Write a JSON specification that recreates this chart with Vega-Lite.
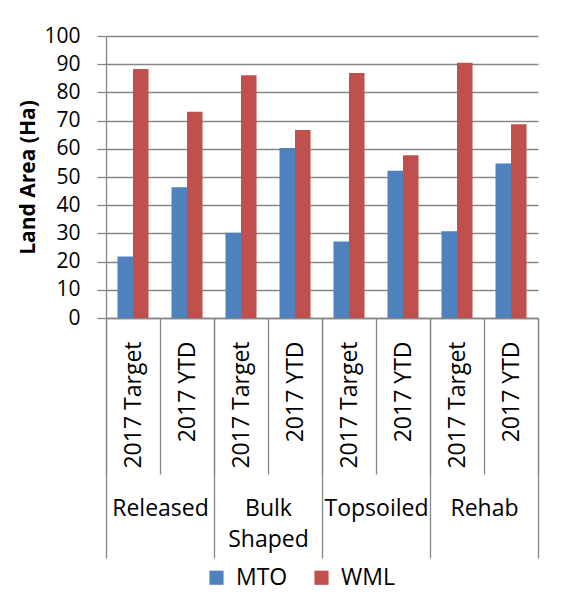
{
  "$schema": "https://vega.github.io/schema/vega-lite/v6.json",
  "width": 432,
  "height": 282,
  "autosize": {"type": "none"},
  "padding": {"left": 106, "top": 36, "right": 24, "bottom": 284},
  "background": "white",
  "config": {
    "font": "Open Sans",
    "view": {"stroke": null},
    "axis": {"labelFont": "Open Sans", "titleFont": "Open Sans", "labelColor": "#000000", "titleColor": "#000000"}
  },
  "data": {
    "values": [
      {"group": "Released", "sub": "2017 Target", "bar": "Released|2017 Target", "series": "MTO", "value": 21.8},
      {"group": "Released", "sub": "2017 Target", "bar": "Released|2017 Target", "series": "WML", "value": 88.3},
      {"group": "Released", "sub": "2017 YTD", "bar": "Released|2017 YTD", "series": "MTO", "value": 46.4},
      {"group": "Released", "sub": "2017 YTD", "bar": "Released|2017 YTD", "series": "WML", "value": 73.1},
      {"group": "Bulk Shaped", "sub": "2017 Target", "bar": "Bulk Shaped|2017 Target", "series": "MTO", "value": 30.2},
      {"group": "Bulk Shaped", "sub": "2017 Target", "bar": "Bulk Shaped|2017 Target", "series": "WML", "value": 86.1},
      {"group": "Bulk Shaped", "sub": "2017 YTD", "bar": "Bulk Shaped|2017 YTD", "series": "MTO", "value": 60.3},
      {"group": "Bulk Shaped", "sub": "2017 YTD", "bar": "Bulk Shaped|2017 YTD", "series": "WML", "value": 66.7},
      {"group": "Topsoiled", "sub": "2017 Target", "bar": "Topsoiled|2017 Target", "series": "MTO", "value": 27.1},
      {"group": "Topsoiled", "sub": "2017 Target", "bar": "Topsoiled|2017 Target", "series": "WML", "value": 86.9},
      {"group": "Topsoiled", "sub": "2017 YTD", "bar": "Topsoiled|2017 YTD", "series": "MTO", "value": 52.2},
      {"group": "Topsoiled", "sub": "2017 YTD", "bar": "Topsoiled|2017 YTD", "series": "WML", "value": 57.7},
      {"group": "Rehab", "sub": "2017 Target", "bar": "Rehab|2017 Target", "series": "MTO", "value": 30.8},
      {"group": "Rehab", "sub": "2017 Target", "bar": "Rehab|2017 Target", "series": "WML", "value": 90.5},
      {"group": "Rehab", "sub": "2017 YTD", "bar": "Rehab|2017 YTD", "series": "MTO", "value": 54.8},
      {"group": "Rehab", "sub": "2017 YTD", "bar": "Rehab|2017 YTD", "series": "WML", "value": 68.7}
    ]
  },
  "layer": [
    {
      "mark": {"type": "bar"},
      "encoding": {
        "x": {
          "field": "bar",
          "type": "nominal",
          "sort": null,
          "scale": {"type": "band", "paddingInner": 0, "paddingOuter": 0},
          "axis": {
            "orient": "bottom",
            "title": null,
            "domain": true,
            "domainColor": "#868686",
            "domainWidth": 1.3,
            "ticks": true,
            "tickBand": "extent",
            "tickSize": 156,
            "tickColor": "#868686",
            "tickWidth": 1.3,
            "labelExpr": "split(datum.value, '|')[1]",
            "labelAngle": -90,
            "labelAlign": "right",
            "labelBaseline": "middle",
            "labelPadding": -133,
            "labelFontSize": 23,
            "labelOverlap": false,
            "labelColor": "#000000"
          }
        },
        "xOffset": {
          "field": "series",
          "type": "nominal",
          "scale": {"paddingInner": 0, "paddingOuter": 0.74}
        },
        "y": {
          "field": "value",
          "type": "quantitative",
          "scale": {"domain": [0, 100], "nice": false, "zero": true},
          "axis": {
            "title": "Land Area (Ha)",
            "titleFontSize": 21,
            "titleFontWeight": "bold",
            "titlePadding": 5,
            "values": [0, 10, 20, 30, 40, 50, 60, 70, 80, 90, 100],
            "labelOverlap": false,
            "labelFontSize": 21,
            "labelPadding": 17,
            "tickSize": 9,
            "tickColor": "#868686",
            "tickWidth": 1.3,
            "domainColor": "#868686",
            "domainWidth": 1.3,
            "grid": true,
            "gridColor": "#868686",
            "gridWidth": 1.3
          }
        },
        "color": {
          "field": "series",
          "type": "nominal",
          "scale": {"domain": ["MTO", "WML"], "range": ["#4F81BD", "#C0504D"]},
          "legend": {
            "title": null,
            "orient": "none",
            "legendX": 99,
            "legendY": 530,
            "direction": "horizontal",
            "symbolType": "square",
            "symbolSize": 200,
            "symbolStrokeWidth": 0,
            "labelFontSize": 23,
            "labelOffset": 8,
            "columnPadding": 22,
            "padding": 0,
            "labelColor": "#000000"
          }
        }
      }
    },
    {
      "mark": {"type": "point", "opacity": 0},
      "encoding": {
        "x": {
          "field": "group",
          "type": "nominal",
          "sort": null,
          "scale": {"type": "band", "paddingInner": 0, "paddingOuter": 0},
          "axis": {
            "orient": "bottom",
            "title": null,
            "domain": false,
            "ticks": true,
            "tickBand": "extent",
            "tickSize": 240,
            "tickColor": "#868686",
            "tickWidth": 1.3,
            "labelAngle": 0,
            "labelAlign": "center",
            "labelBaseline": "top",
            "labelPadding": -61,
            "labelFontSize": 23,
            "labelLineHeight": 31,
            "labelOverlap": false,
            "labelColor": "#000000",
            "labelExpr": "datum.value == 'Bulk Shaped' ? ['Bulk', 'Shaped'] : datum.value"
          }
        }
      }
    }
  ],
  "resolve": {"scale": {"x": "independent"}, "axis": {"x": "independent"}}
}
